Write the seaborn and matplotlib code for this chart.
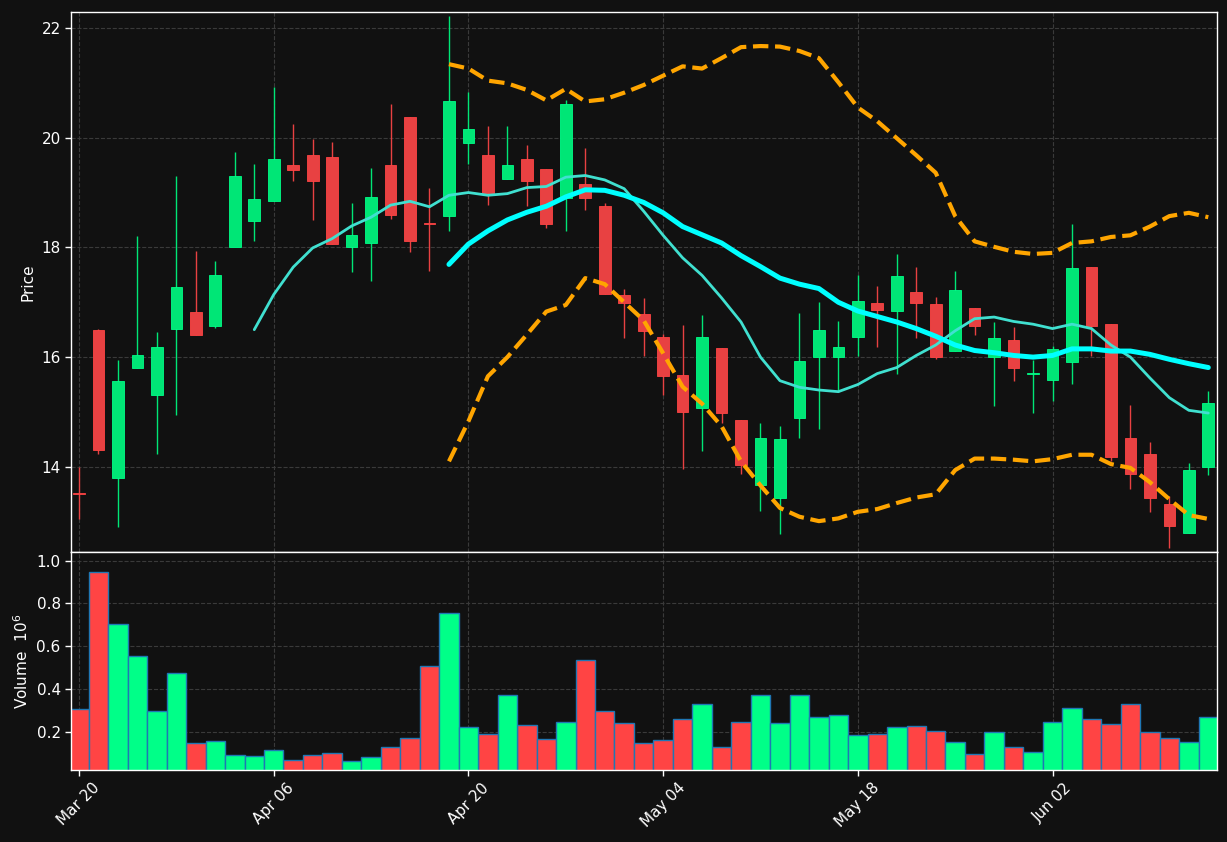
import matplotlib
matplotlib.use('Agg')
import numpy as np
import pandas as pd
import matplotlib.pyplot as plt
import seaborn as sns

# trading sessions (Good Friday and Memorial Day closed)
fechas = pd.bdate_range('2026-03-20', '2026-06-12')
fechas = fechas[~fechas.isin(pd.to_datetime(['2026-04-03', '2026-05-25']))]

apertura = [13.53, 16.50, 13.80, 15.80, 15.31, 16.51, 16.83, 16.57, 18.00, 18.48,
            18.85, 19.51, 19.69, 19.64, 18.00, 18.08, 19.51, 20.37, 18.44, 18.57,
            19.90, 19.68, 19.25, 19.61, 19.42, 18.90, 19.15, 18.76, 17.14, 16.79,
            16.36, 15.67, 15.07, 16.16, 14.85, 13.67, 13.44, 14.89, 16.00, 16.00,
            16.36, 16.98, 16.84, 17.18, 16.96, 16.11, 16.89, 16.00, 16.31, 15.69,
            15.58, 15.91, 17.65, 16.60, 14.52, 14.23, 13.32, 12.80, 14.00]
maximo = [14.00, 16.51, 15.95, 18.21, 16.46, 19.31, 17.94, 17.76, 19.74, 19.52,
          20.92, 20.25, 19.98, 19.92, 18.81, 19.45, 20.62, 20.37, 19.09, 22.22,
          20.83, 20.21, 20.21, 19.87, 19.42, 20.68, 19.82, 18.81, 17.25, 17.07,
          16.42, 16.59, 16.76, 16.16, 14.85, 14.79, 14.75, 16.81, 17.00, 16.65,
          17.50, 17.29, 17.88, 17.65, 17.09, 17.57, 16.89, 16.64, 16.55, 15.95,
          16.20, 18.42, 17.65, 16.60, 15.12, 14.46, 13.47, 14.07, 15.39]
minimo = [13.05, 14.23, 12.90, 15.80, 14.24, 14.95, 16.40, 16.53, 18.00, 18.12,
          18.85, 19.21, 18.50, 18.06, 17.55, 17.39, 18.52, 17.92, 17.57, 18.30,
          19.52, 18.78, 19.25, 18.76, 18.36, 18.30, 18.68, 17.15, 16.35, 16.02,
          15.31, 13.96, 14.28, 14.80, 13.86, 13.20, 12.77, 14.53, 14.69, 15.37,
          16.02, 16.18, 15.70, 16.35, 15.97, 16.11, 16.41, 15.10, 15.57, 14.99,
          15.20, 15.51, 16.02, 14.10, 13.60, 13.18, 12.52, 12.80, 13.85]
cierre = [13.51, 14.31, 15.56, 16.03, 16.19, 17.27, 16.40, 17.49, 19.30, 18.89,
          19.62, 19.41, 19.21, 18.06, 18.23, 18.91, 18.59, 18.12, 18.42, 20.66,
          20.15, 19.00, 19.51, 19.21, 18.42, 20.61, 18.90, 17.15, 16.98, 16.48,
          15.65, 15.00, 16.36, 14.98, 14.04, 14.52, 14.50, 15.92, 16.50, 16.18,
          17.02, 16.85, 17.47, 16.98, 16.00, 17.22, 16.57, 16.34, 15.80, 15.71,
          16.14, 17.62, 16.57, 14.18, 13.87, 13.43, 12.92, 13.94, 15.16]
# volumen en millones
volumen = [0.308, 0.945, 0.705, 0.556, 0.298, 0.477, 0.148, 0.158, 0.092, 0.086,
           0.116, 0.069, 0.092, 0.102, 0.064, 0.083, 0.130, 0.170, 0.509, 0.753,
           0.223, 0.191, 0.373, 0.233, 0.167, 0.247, 0.538, 0.298, 0.242, 0.148,
           0.163, 0.261, 0.331, 0.130, 0.247, 0.373, 0.242, 0.373, 0.270, 0.280,
           0.186, 0.191, 0.223, 0.228, 0.205, 0.153, 0.097, 0.200, 0.130, 0.106,
           0.247, 0.313, 0.261, 0.238, 0.331, 0.200, 0.170, 0.153, 0.270]

# medias moviles y bandas
media_10 = [16.50, 17.14, 17.64, 17.99, 18.16, 18.39, 18.55, 18.77, 18.84, 18.74,
            18.95, 19.00, 18.95, 18.98, 19.09, 19.11, 19.28, 19.31, 19.23, 19.07,
            18.66, 18.22, 17.81, 17.49, 17.08, 16.64, 16.00, 15.57, 15.45, 15.40,
            15.37, 15.50, 15.70, 15.81, 16.03, 16.22, 16.48, 16.70, 16.73, 16.65,
            16.60, 16.52, 16.60, 16.52, 16.22, 16.00, 15.62, 15.26, 15.03, 14.98]
media_20 = [17.69, 18.06, 18.30, 18.50, 18.64, 18.75, 18.92, 19.05, 19.04, 18.95,
            18.82, 18.63, 18.38, 18.23, 18.08, 17.85, 17.65, 17.44, 17.33, 17.25,
            17.00, 16.84, 16.74, 16.64, 16.52, 16.38, 16.22, 16.12, 16.08, 16.03,
            16.00, 16.03, 16.15, 16.15, 16.11, 16.11, 16.05, 15.96, 15.88, 15.81]
banda_sup = [21.34, 21.26, 21.04, 20.99, 20.87, 20.68, 20.89, 20.66, 20.70, 20.82,
             20.96, 21.13, 21.30, 21.26, 21.45, 21.65, 21.67, 21.66, 21.58, 21.45,
             21.01, 20.55, 20.30, 19.99, 19.68, 19.36, 18.57, 18.11, 18.01, 17.92,
             17.88, 17.90, 18.08, 18.11, 18.19, 18.22, 18.38, 18.57, 18.63, 18.55]
banda_inf = [14.10, 14.83, 15.65, 16.00, 16.41, 16.83, 16.95, 17.44, 17.33, 17.00,
             16.67, 16.07, 15.46, 15.15, 14.74, 14.10, 13.66, 13.25, 13.09, 13.01,
             13.06, 13.18, 13.23, 13.34, 13.44, 13.50, 13.94, 14.15, 14.15, 14.13,
             14.10, 14.14, 14.22, 14.22, 14.05, 13.98, 13.72, 13.41, 13.12, 13.05]

FONDO = '#111111'
VERDE, ROJO = '#00e676', '#e84142'
VERDE_VOL, ROJO_VOL = '#00ff88', '#ff4444'

sns.set_theme(style="dark")
plt.rcParams.update({
    'figure.facecolor': FONDO, 'axes.facecolor': FONDO, 'axes.edgecolor': 'white',
    'axes.labelcolor': 'white', 'xtick.color': 'white', 'ytick.color': 'white',
    'text.color': 'white', 'font.size': 11, 'axes.labelsize': 11,
    'xtick.labelsize': 11, 'ytick.labelsize': 11,
    'xtick.bottom': True, 'ytick.left': True,
})
plt.rcParams['font.family'] = ['DejaVu Sans']

df = pd.DataFrame({'fecha': fechas, 'open': apertura, 'high': maximo,
                   'low': minimo, 'close': cierre, 'vol': volumen})
df['idx'] = np.arange(len(df))
df['sube'] = np.where(df['close'] >= df['open'], 'sube', 'baja')

fig = plt.figure(figsize=(12.27, 8.42), dpi=100)
ax = fig.add_axes([0.0579, 0.3444, 0.9340, 0.6413])
ax_vol = fig.add_axes([0.0579, 0.0855, 0.9340, 0.2589], sharex=ax)

for a in (ax, ax_vol):
    a.grid(True, color='#3a3a3a', linestyle='--', linewidth=0.8)
    for s in a.spines.values():
        s.set_color('white')
        s.set_linewidth(1.0)
    a.tick_params(length=4, width=1, color='white')

# velas
col_vela = np.where(df['sube'] == 'sube', VERDE, ROJO)
col_borde = np.where(df['sube'] == 'sube', VERDE_VOL, ROJO_VOL)
ax.vlines(df['idx'], df['low'], df['high'], colors=col_vela, linewidth=1, zorder=2)
cuerpo = np.maximum((df['close'] - df['open']).abs(), 0.02)
ax.bar(df['idx'], cuerpo, bottom=np.minimum(df['open'], df['close']), width=0.6,
       color=col_vela, edgecolor=col_borde, linewidth=0.6, zorder=3)

# lineas
sns.lineplot(x=df['idx'][9:], y=media_10, ax=ax, color='#40e0d0', linewidth=2, zorder=4)
sns.lineplot(x=df['idx'][19:], y=media_20, ax=ax, color='#00ffff', linewidth=3.6, zorder=4)
sns.lineplot(x=df['idx'][19:], y=banda_sup, ax=ax, color='#ffa500', linewidth=3,
             linestyle='--', zorder=4)
sns.lineplot(x=df['idx'][19:], y=banda_inf, ax=ax, color='#ffa500', linewidth=3,
             linestyle='--', zorder=4)

ax.set_ylim(12.447, 22.29)
ax.set_yticks([14, 16, 18, 20, 22])
ax.set_ylabel('Price')
ax.set_xlabel('')
ax.tick_params(axis='x', labelbottom=False, length=0)

# volumen
sns.barplot(data=df, x='idx', y='vol', hue='sube', native_scale=True, dodge=False,
            palette={'sube': VERDE_VOL, 'baja': ROJO_VOL}, width=1.0, saturation=1,
            edgecolor='#1f77b4', linewidth=1, errorbar=None, legend=False, ax=ax_vol)
ax_vol.set_ylim(0.022, 1.04)
ax_vol.set_yticks([0.2, 0.4, 0.6, 0.8, 1.0])
ax_vol.set_ylabel('Volume  $10^{6}$')
ax_vol.set_xlabel('')

posiciones = df['idx'][::10]
ax_vol.set_xticks(posiciones)
ax_vol.set_xticklabels([f.strftime('%b %d') for f in df['fecha'][::10]],
                       rotation=45, ha='center')
ax_vol.set_xlim(-0.41, 58.45)
ax_vol.tick_params(axis='x', length=4)

fig.savefig('out.png', dpi=100, facecolor=FONDO)
plt.close(fig)
